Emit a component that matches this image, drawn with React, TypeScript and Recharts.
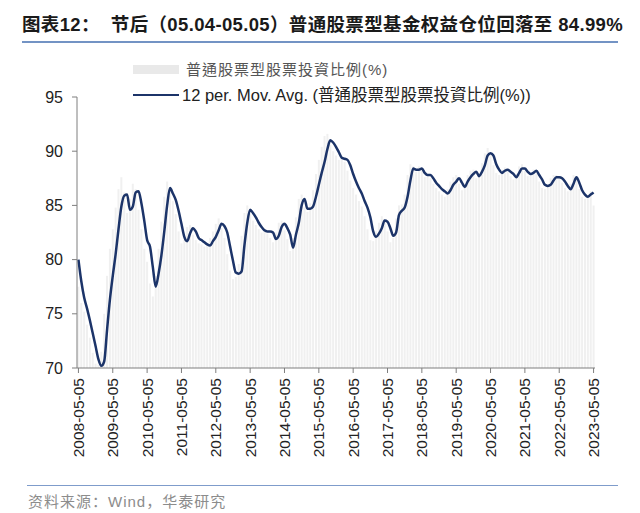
import { ComposedChart, Bar, Line, XAxis, YAxis } from 'recharts'

// 月度采样：2008-05 至 2023-05
const startYear = 2008
const startMonth = 5

// 12 周移动平均
const maValues = [
  80.0, 78.0, 76.5, 75.5, 74.4, 73.2, 72.0, 70.8, 70.2, 70.6, 73.5, 76.3,
  78.5, 80.5, 82.8, 84.9, 85.9, 86.0, 84.6, 84.9, 86.2, 86.3, 85.2, 83.6,
  81.8, 81.2, 79.3, 77.5, 78.7, 80.4, 82.6, 85.0, 86.6, 86.1, 85.5, 84.5,
  83.3, 82.1, 81.7, 82.4, 82.9, 82.6, 82.0, 81.8, 81.6, 81.4, 81.3, 81.7,
  82.1, 82.7, 83.3, 83.1, 82.5, 81.2, 79.9, 78.8, 78.7, 78.9, 81.3, 83.4,
  84.6, 84.3, 83.9, 83.4, 83.0, 82.7, 82.6, 82.6, 82.5, 81.9, 82.2, 83.0,
  83.3, 82.9, 82.3, 81.1, 82.3, 83.4, 85.0, 85.6, 84.7, 84.7, 84.9, 85.8,
  86.9, 88.0, 89.0, 90.2, 91.0, 90.8, 90.4, 89.9, 89.4, 89.3, 89.2, 88.7,
  87.9, 87.2, 86.6, 86.1, 85.4, 84.8, 83.9, 82.6, 82.1, 82.4, 82.9, 83.6,
  83.5, 82.9, 82.2, 82.5, 84.1, 84.5, 84.8, 85.8, 87.3, 88.4, 88.3, 88.3,
  88.4, 88.0, 87.8, 87.8, 87.5, 87.1, 86.8, 86.5, 86.3, 86.1, 86.4, 86.9,
  87.2, 87.5, 87.1, 86.7, 87.2, 87.6, 87.9, 88.1, 87.7, 88.1, 88.7, 89.6,
  89.8, 89.6, 88.8, 88.3, 88.0, 88.2, 88.3, 88.1, 87.9, 87.6, 88.0, 88.4,
  88.4, 88.1, 87.9, 88.0, 88.2, 87.8, 87.4, 86.9, 86.8, 86.9, 87.3, 87.6,
  87.6, 87.5, 87.2, 86.8, 86.5, 87.0, 87.6, 87.1, 86.4, 86.0, 85.8, 86.0,
  86.2,
]

// 普通股票型股票投资比例（原始值，读图估计）
const rawValues = [
  77.5, 76.0, 75.2, 74.0, 72.8, 71.4, 70.4, 70.3, 71.5, 75.0, 78.5, 81.0,
  82.8, 84.8, 86.5, 87.6, 86.2, 84.3, 85.6, 87.0, 86.5, 84.6, 82.8, 81.0,
  79.8, 77.8, 76.6, 78.5, 81.0, 83.5, 85.8, 87.2, 86.4, 85.4, 84.2, 82.6,
  81.5, 82.0, 83.0, 83.2, 82.3, 81.8, 81.5, 81.4, 81.2, 81.5, 82.0, 82.6,
  83.3, 83.8, 82.9, 82.0, 80.5, 79.0, 78.2, 78.4, 79.6, 82.2, 84.3, 85.0,
  84.2, 83.6, 83.2, 82.8, 82.5, 82.7, 82.4, 82.0, 81.6, 82.5, 83.4, 83.6,
  82.7, 81.9, 80.8, 82.0, 83.9, 85.6, 86.0, 84.8, 84.4, 85.2, 86.4, 87.9,
  89.2, 90.4, 91.4, 91.6, 90.6, 90.0, 89.6, 89.2, 89.5, 89.0, 88.2, 87.3,
  86.6, 86.0, 85.4, 84.9, 84.0, 82.8, 81.8, 81.7, 82.6, 83.4, 84.0, 83.6,
  82.6, 81.6, 82.0, 83.8, 85.0, 85.1, 86.0, 87.8, 88.8, 88.6, 88.1, 88.6,
  88.2, 87.6, 87.9, 87.5, 87.0, 86.6, 86.3, 86.0, 85.8, 86.5, 87.2, 87.6,
  87.8, 87.0, 86.4, 87.0, 87.8, 88.2, 88.3, 87.5, 88.0, 88.9, 89.8, 90.3,
  89.7, 88.7, 88.0, 87.8, 88.3, 88.5, 88.1, 87.7, 87.4, 87.9, 88.6, 88.8,
  88.2, 87.7, 87.9, 88.3, 88.0, 87.2, 86.6, 86.5, 86.9, 87.5, 87.8, 87.8,
  87.5, 87.1, 86.6, 86.3, 87.0, 87.8, 87.4, 86.5, 85.8, 85.6, 85.9, 86.3,
  84.99,
]

const yTicks = [70, 75, 80, 85, 90, 95]

const dates = maValues.map((_, i) => {
  const m = startMonth - 1 + i
  const y = startYear + Math.floor(m / 12)
  const mm = String((m % 12) + 1).padStart(2, '0')
  return `${y}-${mm}-05`
})

const data = dates.map((d, i) => ({ date: d, raw: rawValues[i], ma: maValues[i] }))

const latin = '"Liberation Sans", Arial, sans-serif'
const cjk = '"Liberation Sans", "Noto Sans CJK TC", sans-serif'

const XTick = (props: any) => {
  const { x, y, payload } = props
  return (
    <g transform={`translate(${x},${y})`}>
      <text
        transform="rotate(-90)"
        x={0}
        y={0}
        dy="0.35em"
        textAnchor="end"
        fill="#222"
        fontSize={15.5}
        fontFamily={latin}
      >
        {payload.value}
      </text>
    </g>
  )
}

export default function App() {
  return (
    <div style={{ position: 'absolute', left: 0, top: 0, width: 640, height: 513, background: '#fff' }}>
      <div
        style={{
          position: 'absolute',
          left: 22,
          top: 10,
          width: 596,
          fontFamily: '"Liberation Sans", "Noto Sans CJK SC", sans-serif',
          fontWeight: 700,
          fontSize: 18.5,
          letterSpacing: 0.35,
          color: '#1a1a1a',
          whiteSpace: 'nowrap',
          paddingBottom: 5,
          borderBottom: '2px solid #7393c4',
        }}
      >
        图表12：&nbsp;&nbsp;节后（05.04-05.05）普通股票型基金权益仓位回落至 84.99%
      </div>

      <div style={{ position: 'absolute', left: 0, top: 0 }}>
        <ComposedChart
          width={640}
          height={513}
          data={data}
          margin={{ top: 97, right: 45, bottom: 45, left: 37 }}
          barCategoryGap="15%"
        >
          <XAxis
            dataKey="date"
            interval={11}
            height={100}
            tick={<XTick />}
            tickSize={5}
            tickMargin={5}
            stroke="#7f7f7f"
          />
          <YAxis
            domain={[70, 95]}
            ticks={yTicks}
            width={40}
            tickSize={5}
            tickMargin={9}
            stroke="#7f7f7f"
            allowDataOverflow
            tick={{ fill: '#222', fontSize: 16, fontFamily: latin }}
          />
          <Bar dataKey="raw" fill="#f0f0f0" isAnimationActive={false} />
          <Line
            type="monotone"
            dataKey="ma"
            stroke="#1c3469"
            strokeWidth={2.5}
            dot={false}
            isAnimationActive={false}
          />
        </ComposedChart>
      </div>

      {/* 图例 */}
      <div style={{ position: 'absolute', left: 133, top: 56, fontFamily: cjk, lineHeight: 1 }}>
        <div style={{ display: 'flex', alignItems: 'center', height: 26 }}>
          <span style={{ width: 46, height: 9, background: '#e9e9e9', display: 'inline-block' }} />
          <span style={{ marginLeft: 7, fontSize: 15, color: '#555', letterSpacing: 1 }}>
            普通股票型股票投資比例(%)
          </span>
        </div>
        <div style={{ display: 'flex', alignItems: 'center', height: 26 }}>
          <span style={{ width: 46, height: 2.5, background: '#1c3469', display: 'inline-block' }} />
          <span style={{ marginLeft: 3, fontSize: 16.5, color: '#222' }}>
            12 per. Mov. Avg. (普通股票型股票投資比例(%))
          </span>
        </div>
      </div>

      <div
        style={{
          position: 'absolute',
          left: 27,
          top: 485,
          width: 591,
          borderTop: '1.5px solid #7f9ccb',
        }}
      />
      <div
        style={{
          position: 'absolute',
          left: 28,
          top: 490,
          fontFamily: '"Liberation Sans", "Noto Sans CJK SC", sans-serif',
          fontSize: 15,
          color: '#8c8c8c',
          letterSpacing: 1,
        }}
      >
        资料来源：Wind，华泰研究
      </div>
    </div>
  )
}
